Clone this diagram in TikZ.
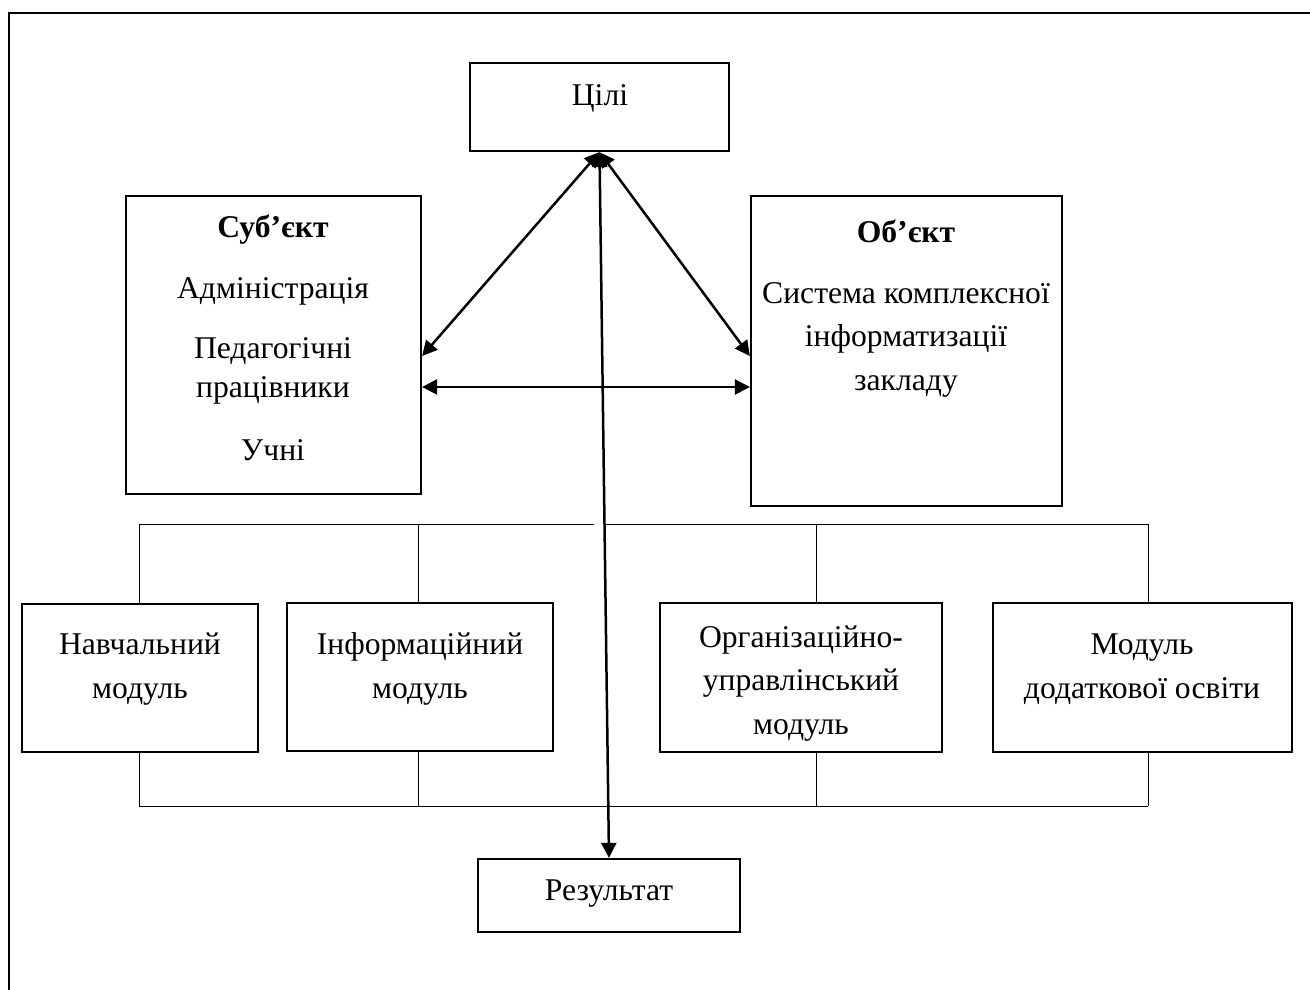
\documentclass[tikz,border=0pt]{standalone}
\usepackage{fontspec}
\setmainfont{Liberation Serif}
\usetikzlibrary{arrows.meta,fit}

\begin{document}
\begin{tikzpicture}[x=0.2mm,y=-0.2mm,
    box/.style={draw,line width=0.45mm,inner sep=0pt},
    txt/.style={align=center,anchor=base,font=\fontsize{18}{24.5}\selectfont},
    link/.style={line width=0.5mm,{Triangle[length=3mm,width=3mm]}-{Triangle[length=3mm,width=3mm]}},
    bus/.style={line width=0.2mm}]
    \useasboundingbox (0,0) rectangle (1310,990);
    \draw[line width=0.4mm] (9,1000)--(9,13)--(1320,13);
    % boxes
    \node[box,fit={(470,63) (729,151)}](celi){};
    \node[box,fit={(126,196) (421,494)}](subj){};
    \node[box,fit={(751,196) (1062,506)}](obj){};
    \node[box,fit={(22,604) (258,752)}](nav){};
    \node[box,fit={(287,603) (553,751)}](inf){};
    \node[box,fit={(660,603) (942,752)}](org){};
    \node[box,fit={(993,603) (1292,752)}](dod){};
    \node[box,fit={(478,859) (740,932)}](res){};
    % texts (base = last line)
    \node[txt](celit) at(600,106){Цілі};
    \node[txt](subjt) at(273,460){\textbf{Суб’єкт}\\[10pt]Адміністрація\\[10pt]Педагогічні\\[-2.5pt]працівники\\[11pt]Учні};
    \node[txt](objt) at(906,390){\textbf{Об’єкт}\\[10.5pt]Система комплексної\\інформатизації\\закладу};
    \node[txt](navt) at(140,698){Навчальний\\модуль};
    \node[txt](inft) at(420,698){Інформаційний\\модуль};
    \node[txt](orgt) at(801,734){Організаційно-\\управлінський\\модуль};
    \node[txt](dodt) at(1142,698){Модуль\\додаткової освіти};
    \node[txt](rest) at(609,900){Результат};
    % arrows
    \coordinate (lvA) at(0,356);
    \coordinate (lvB) at(0,387);
    \draw[link](celi.south)--(subj.east |- lvA);
    \draw[link](celi.south)--(obj.west |- lvA);
    \draw[link](subj.east |- lvB)--(obj.west |- lvB);
    \draw[link](celi.south)--(res.north);
    % modules
    \foreach \x/\n in {139/nav,418/inf,816/org,1148/dod}{
        \draw[bus](\x,524)--(\x,0 |- \n.north);
        \draw[bus](\x,0 |- \n.south)--(\x,806);
    }
    \draw[bus](139,524)--(594,524) (605,524)--(1148,524);
    \draw[bus](139,806)--(1148,806);
\end{tikzpicture}
\end{document}
